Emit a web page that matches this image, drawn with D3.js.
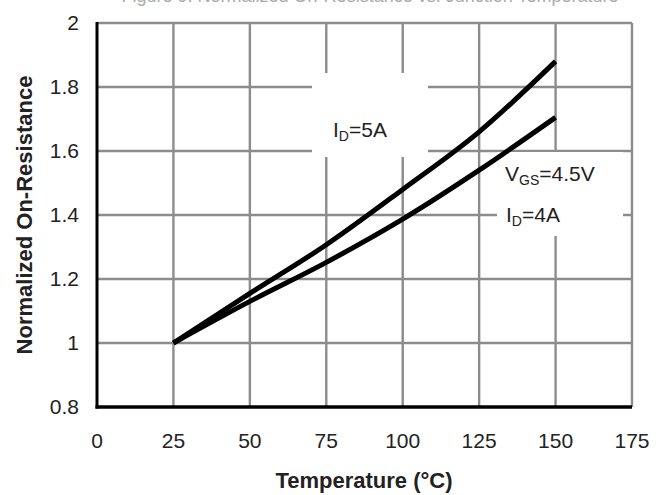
<!DOCTYPE html>
<html><head><meta charset="utf-8">
<script src="https://cdn.jsdelivr.net/npm/d3@7"></script>
<style>body{margin:0;background:#fff}svg{display:block}text{font-family:"Liberation Sans",Arial,sans-serif}</style>
</head><body><svg id="c" width="661" height="495"></svg>
<script>
const temps = [25, 50, 75, 100, 125, 150];
const id5A = [1.0, 1.155, 1.307, 1.48, 1.66, 1.88];
const id4A = [1.0, 1.13, 1.252, 1.387, 1.54, 1.705];
const xTicks = [0, 25, 50, 75, 100, 125, 150, 175];
const yTicks = [0.8, 1, 1.2, 1.4, 1.6, 1.8, 2];

const svg = d3.select("#c");
const x = d3.scaleLinear().domain([0, 175]).range([97, 632]);
const y = d3.scaleLinear().domain([0.8, 2]).range([407, 23]);

// title (cut off at top, as in the source)
svg.append("text").attr("x", 370).attr("y", 2).attr("text-anchor", "middle")
  .attr("font-size", 18).attr("fill", "#aaa").text("Figure 9. Normalized On-Resistance vs. Junction Temperature");

// grid
const g = svg.append("g");
g.selectAll(".vx").data(xTicks.slice(1)).join("line")
  .attr("x1", d => x(d)).attr("x2", d => x(d)).attr("y1", y(2)).attr("y2", y(0.8))
  .attr("stroke", "#8c8c8c").attr("stroke-width", 2.4);
g.selectAll(".hy").data(yTicks.slice(1)).join("line")
  .attr("x1", x(0)).attr("x2", x(175)).attr("y1", d => y(d)).attr("y2", d => y(d))
  .attr("stroke", "#8c8c8c").attr("stroke-width", 2.4);

// label backgrounds
svg.append("rect").attr("x", 312).attr("y", 73).attr("width", 116).attr("height", 84).attr("fill", "#fff");
svg.append("rect").attr("x", 497).attr("y", 152).attr("width", 126).attr("height", 84).attr("fill", "#fff");

// axes lines
svg.append("line").attr("x1", x(0)).attr("x2", x(0)).attr("y1", y(2) - 1).attr("y2", y(0.8) + 1.5)
  .attr("stroke", "#000").attr("stroke-width", 3);
svg.append("line").attr("x1", x(0) - 1.5).attr("x2", x(175)).attr("y1", y(0.8)).attr("y2", y(0.8))
  .attr("stroke", "#000").attr("stroke-width", 3.5);

// tick labels
svg.selectAll(".xt").data(xTicks).join("text")
  .attr("x", d => x(d)).attr("y", 448).attr("text-anchor", "middle")
  .attr("font-size", 21).attr("fill", "#222").text(d => d);
svg.selectAll(".yt").data(yTicks).join("text")
  .attr("x", 79).attr("y", d => y(d) + 7).attr("text-anchor", "end")
  .attr("font-size", 21).attr("fill", "#222").text(d => d);

// axis titles
svg.append("text").attr("x", 364).attr("y", 488).attr("text-anchor", "middle")
  .attr("font-size", 22).attr("font-weight", "bold").attr("fill", "#222").text("Temperature (°C)");
svg.append("text").attr("transform", "translate(32,215) rotate(-90)").attr("text-anchor", "middle")
  .attr("font-size", 22).attr("font-weight", "bold").attr("fill", "#222").text("Normalized On-Resistance");

// curves
const line = d3.line().x((d, i) => x(temps[i])).y(d => y(d)).curve(d3.curveMonotoneX);
[id5A, id4A].forEach(s => {
  svg.append("path").attr("d", line(s)).attr("fill", "none").attr("stroke", "#000")
    .attr("stroke-width", 5).attr("stroke-linecap", "butt");
});

// annotations
function lab(xp, yp, main, sub, rest) {
  const t = svg.append("text").attr("x", xp).attr("y", yp).attr("font-size", 21).attr("fill", "#222");
  t.append("tspan").text(main);
  t.append("tspan").attr("font-size", 14).attr("dy", 4).text(sub);
  t.append("tspan").attr("dy", -4).text(rest);
}
lab(333, 137, "I", "D", "=5A");
lab(505, 181, "V", "GS", "=4.5V");
lab(506, 222, "I", "D", "=4A");
</script></body></html>
